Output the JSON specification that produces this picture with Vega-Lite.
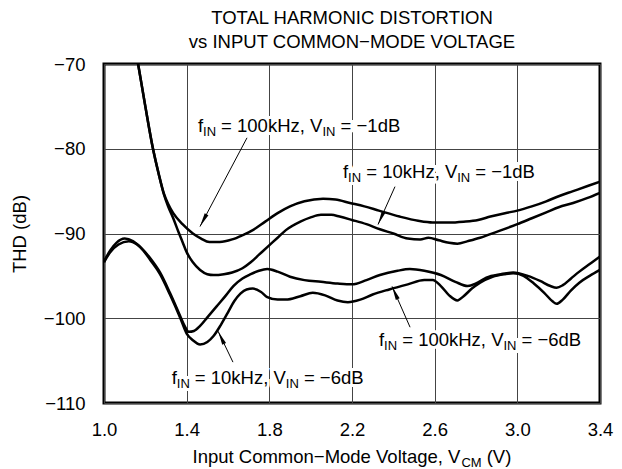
{
  "$schema": "https://vega.github.io/schema/vega-lite/v6.json",
  "width": 496,
  "height": 339,
  "autosize": {"type": "none"},
  "padding": {"left": 104, "top": 64, "right": 22, "bottom": 66},
  "background": "white",
  "config": {
    "font": "Liberation Sans",
    "view": {"stroke": "black", "strokeWidth": 3},
    "axis": {
      "grid": true, "gridColor": "#444", "gridWidth": 1, "gridOpacity": 1,
      "ticks": false, "domain": false,
      "labelFontSize": 18.5, "labelColor": "black", "labelFont": "Liberation Sans",
      "titleFontSize": 18.5, "titleColor": "black", "titleFontWeight": "normal", "titleFont": "Liberation Sans",
      "labelFlush": false, "labelOverlap": false
    }
  },
  "title": {
    "text": ["TOTAL HARMONIC DISTORTION", "vs INPUT COMMON−MODE VOLTAGE"],
    "fontSize": 18.5, "fontWeight": "normal", "font": "Liberation Sans", "color": "black",
    "anchor": "middle", "lineHeight": 24, "offset": 4
  },
  "datasets": {
    "curves": [
      {"s": "100kHz −1dB", "v": 1.15, "thd": -68.0},
      {"s": "100kHz −1dB", "v": 1.165, "thd": -70.0},
      {"s": "100kHz −1dB", "v": 1.2, "thd": -75.0},
      {"s": "100kHz −1dB", "v": 1.237, "thd": -80.0},
      {"s": "100kHz −1dB", "v": 1.265, "thd": -83.0},
      {"s": "100kHz −1dB", "v": 1.29, "thd": -85.3},
      {"s": "100kHz −1dB", "v": 1.31, "thd": -86.5},
      {"s": "100kHz −1dB", "v": 1.335, "thd": -87.6},
      {"s": "100kHz −1dB", "v": 1.38, "thd": -88.9},
      {"s": "100kHz −1dB", "v": 1.43, "thd": -90.0},
      {"s": "100kHz −1dB", "v": 1.47, "thd": -90.6},
      {"s": "100kHz −1dB", "v": 1.51, "thd": -91.0},
      {"s": "100kHz −1dB", "v": 1.56, "thd": -91.0},
      {"s": "100kHz −1dB", "v": 1.62, "thd": -90.7},
      {"s": "100kHz −1dB", "v": 1.67, "thd": -90.2},
      {"s": "100kHz −1dB", "v": 1.72, "thd": -89.6},
      {"s": "100kHz −1dB", "v": 1.78, "thd": -88.6},
      {"s": "100kHz −1dB", "v": 1.84, "thd": -87.6},
      {"s": "100kHz −1dB", "v": 1.9, "thd": -86.8},
      {"s": "100kHz −1dB", "v": 1.97, "thd": -86.2},
      {"s": "100kHz −1dB", "v": 2.06, "thd": -85.9},
      {"s": "100kHz −1dB", "v": 2.12, "thd": -86.0},
      {"s": "100kHz −1dB", "v": 2.19, "thd": -86.4},
      {"s": "100kHz −1dB", "v": 2.26, "thd": -86.8},
      {"s": "100kHz −1dB", "v": 2.33, "thd": -87.3},
      {"s": "100kHz −1dB", "v": 2.43, "thd": -88.0},
      {"s": "100kHz −1dB", "v": 2.52, "thd": -88.5},
      {"s": "100kHz −1dB", "v": 2.59, "thd": -88.7},
      {"s": "100kHz −1dB", "v": 2.67, "thd": -88.7},
      {"s": "100kHz −1dB", "v": 2.74, "thd": -88.6},
      {"s": "100kHz −1dB", "v": 2.81, "thd": -88.4},
      {"s": "100kHz −1dB", "v": 2.87, "thd": -88.0},
      {"s": "100kHz −1dB", "v": 2.94, "thd": -87.6},
      {"s": "100kHz −1dB", "v": 3.0, "thd": -87.3},
      {"s": "100kHz −1dB", "v": 3.07, "thd": -86.8},
      {"s": "100kHz −1dB", "v": 3.14, "thd": -86.2},
      {"s": "100kHz −1dB", "v": 3.2, "thd": -85.6},
      {"s": "100kHz −1dB", "v": 3.27, "thd": -85.0},
      {"s": "100kHz −1dB", "v": 3.34, "thd": -84.4},
      {"s": "100kHz −1dB", "v": 3.4, "thd": -83.9},

      {"s": "10kHz −1dB", "v": 1.15, "thd": -68.0},
      {"s": "10kHz −1dB", "v": 1.165, "thd": -70.0},
      {"s": "10kHz −1dB", "v": 1.2, "thd": -75.0},
      {"s": "10kHz −1dB", "v": 1.237, "thd": -80.0},
      {"s": "10kHz −1dB", "v": 1.265, "thd": -83.0},
      {"s": "10kHz −1dB", "v": 1.29, "thd": -85.4},
      {"s": "10kHz −1dB", "v": 1.31, "thd": -86.8},
      {"s": "10kHz −1dB", "v": 1.335, "thd": -88.2},
      {"s": "10kHz −1dB", "v": 1.36, "thd": -89.8},
      {"s": "10kHz −1dB", "v": 1.38, "thd": -91.0},
      {"s": "10kHz −1dB", "v": 1.4, "thd": -92.2},
      {"s": "10kHz −1dB", "v": 1.43, "thd": -93.4},
      {"s": "10kHz −1dB", "v": 1.465, "thd": -94.3},
      {"s": "10kHz −1dB", "v": 1.5, "thd": -94.8},
      {"s": "10kHz −1dB", "v": 1.53, "thd": -94.9},
      {"s": "10kHz −1dB", "v": 1.58, "thd": -94.8},
      {"s": "10kHz −1dB", "v": 1.62, "thd": -94.6},
      {"s": "10kHz −1dB", "v": 1.67, "thd": -94.1},
      {"s": "10kHz −1dB", "v": 1.71, "thd": -93.4},
      {"s": "10kHz −1dB", "v": 1.75, "thd": -92.5},
      {"s": "10kHz −1dB", "v": 1.79, "thd": -91.6},
      {"s": "10kHz −1dB", "v": 1.84, "thd": -90.5},
      {"s": "10kHz −1dB", "v": 1.88, "thd": -89.6},
      {"s": "10kHz −1dB", "v": 1.95, "thd": -88.6},
      {"s": "10kHz −1dB", "v": 2.0, "thd": -88.1},
      {"s": "10kHz −1dB", "v": 2.05, "thd": -87.8},
      {"s": "10kHz −1dB", "v": 2.1, "thd": -87.8},
      {"s": "10kHz −1dB", "v": 2.14, "thd": -88.0},
      {"s": "10kHz −1dB", "v": 2.2, "thd": -88.4},
      {"s": "10kHz −1dB", "v": 2.27, "thd": -88.9},
      {"s": "10kHz −1dB", "v": 2.335, "thd": -89.5},
      {"s": "10kHz −1dB", "v": 2.4, "thd": -90.0},
      {"s": "10kHz −1dB", "v": 2.47, "thd": -90.6},
      {"s": "10kHz −1dB", "v": 2.53, "thd": -90.7},
      {"s": "10kHz −1dB", "v": 2.57, "thd": -90.5},
      {"s": "10kHz −1dB", "v": 2.62, "thd": -90.8},
      {"s": "10kHz −1dB", "v": 2.67, "thd": -91.1},
      {"s": "10kHz −1dB", "v": 2.71, "thd": -91.2},
      {"s": "10kHz −1dB", "v": 2.76, "thd": -90.9},
      {"s": "10kHz −1dB", "v": 2.82, "thd": -90.5},
      {"s": "10kHz −1dB", "v": 2.9, "thd": -89.8},
      {"s": "10kHz −1dB", "v": 3.0, "thd": -88.9},
      {"s": "10kHz −1dB", "v": 3.07, "thd": -88.2},
      {"s": "10kHz −1dB", "v": 3.14, "thd": -87.5},
      {"s": "10kHz −1dB", "v": 3.2, "thd": -86.9},
      {"s": "10kHz −1dB", "v": 3.27, "thd": -86.4},
      {"s": "10kHz −1dB", "v": 3.34, "thd": -85.8},
      {"s": "10kHz −1dB", "v": 3.4, "thd": -85.2},

      {"s": "100kHz −6dB", "v": 1.0, "thd": -93.3},
      {"s": "100kHz −6dB", "v": 1.03, "thd": -92.0},
      {"s": "100kHz −6dB", "v": 1.06, "thd": -91.1},
      {"s": "100kHz −6dB", "v": 1.1, "thd": -90.6},
      {"s": "100kHz −6dB", "v": 1.14, "thd": -90.9},
      {"s": "100kHz −6dB", "v": 1.18, "thd": -91.7},
      {"s": "100kHz −6dB", "v": 1.223, "thd": -92.9},
      {"s": "100kHz −6dB", "v": 1.271, "thd": -94.6},
      {"s": "100kHz −6dB", "v": 1.319, "thd": -97.0},
      {"s": "100kHz −6dB", "v": 1.368, "thd": -99.7},
      {"s": "100kHz −6dB", "v": 1.39, "thd": -100.9},
      {"s": "100kHz −6dB", "v": 1.41, "thd": -101.6},
      {"s": "100kHz −6dB", "v": 1.435, "thd": -101.5},
      {"s": "100kHz −6dB", "v": 1.465, "thd": -100.9},
      {"s": "100kHz −6dB", "v": 1.5, "thd": -99.9},
      {"s": "100kHz −6dB", "v": 1.545, "thd": -98.6},
      {"s": "100kHz −6dB", "v": 1.59, "thd": -97.3},
      {"s": "100kHz −6dB", "v": 1.626, "thd": -96.2},
      {"s": "100kHz −6dB", "v": 1.67, "thd": -95.3},
      {"s": "100kHz −6dB", "v": 1.71, "thd": -94.8},
      {"s": "100kHz −6dB", "v": 1.75, "thd": -94.4},
      {"s": "100kHz −6dB", "v": 1.79, "thd": -94.2},
      {"s": "100kHz −6dB", "v": 1.84, "thd": -94.5},
      {"s": "100kHz −6dB", "v": 1.9, "thd": -95.1},
      {"s": "100kHz −6dB", "v": 1.97, "thd": -95.5},
      {"s": "100kHz −6dB", "v": 2.05, "thd": -95.7},
      {"s": "100kHz −6dB", "v": 2.13, "thd": -95.9},
      {"s": "100kHz −6dB", "v": 2.2, "thd": -96.0},
      {"s": "100kHz −6dB", "v": 2.27, "thd": -95.5},
      {"s": "100kHz −6dB", "v": 2.335, "thd": -94.9},
      {"s": "100kHz −6dB", "v": 2.42, "thd": -94.4},
      {"s": "100kHz −6dB", "v": 2.48, "thd": -94.2},
      {"s": "100kHz −6dB", "v": 2.55, "thd": -94.4},
      {"s": "100kHz −6dB", "v": 2.63, "thd": -94.9},
      {"s": "100kHz −6dB", "v": 2.7, "thd": -95.7},
      {"s": "100kHz −6dB", "v": 2.76, "thd": -96.2},
      {"s": "100kHz −6dB", "v": 2.8, "thd": -95.9},
      {"s": "100kHz −6dB", "v": 2.85, "thd": -95.2},
      {"s": "100kHz −6dB", "v": 2.92, "thd": -94.8},
      {"s": "100kHz −6dB", "v": 2.98, "thd": -94.6},
      {"s": "100kHz −6dB", "v": 3.05, "thd": -95.0},
      {"s": "100kHz −6dB", "v": 3.11, "thd": -95.6},
      {"s": "100kHz −6dB", "v": 3.16, "thd": -96.2},
      {"s": "100kHz −6dB", "v": 3.19, "thd": -96.4},
      {"s": "100kHz −6dB", "v": 3.22, "thd": -96.1},
      {"s": "100kHz −6dB", "v": 3.26, "thd": -95.3},
      {"s": "100kHz −6dB", "v": 3.3, "thd": -94.5},
      {"s": "100kHz −6dB", "v": 3.35, "thd": -93.6},
      {"s": "100kHz −6dB", "v": 3.4, "thd": -92.7},

      {"s": "10kHz −6dB", "v": 1.0, "thd": -93.4},
      {"s": "10kHz −6dB", "v": 1.03, "thd": -92.2},
      {"s": "10kHz −6dB", "v": 1.07, "thd": -91.3},
      {"s": "10kHz −6dB", "v": 1.12, "thd": -90.9},
      {"s": "10kHz −6dB", "v": 1.16, "thd": -91.3},
      {"s": "10kHz −6dB", "v": 1.19, "thd": -92.0},
      {"s": "10kHz −6dB", "v": 1.223, "thd": -93.1},
      {"s": "10kHz −6dB", "v": 1.271, "thd": -94.8},
      {"s": "10kHz −6dB", "v": 1.319, "thd": -97.2},
      {"s": "10kHz −6dB", "v": 1.368, "thd": -99.9},
      {"s": "10kHz −6dB", "v": 1.4, "thd": -101.8},
      {"s": "10kHz −6dB", "v": 1.43, "thd": -102.6},
      {"s": "10kHz −6dB", "v": 1.465, "thd": -103.1},
      {"s": "10kHz −6dB", "v": 1.5, "thd": -102.8},
      {"s": "10kHz −6dB", "v": 1.53, "thd": -102.1},
      {"s": "10kHz −6dB", "v": 1.565, "thd": -100.8},
      {"s": "10kHz −6dB", "v": 1.6, "thd": -99.3},
      {"s": "10kHz −6dB", "v": 1.63, "thd": -98.0},
      {"s": "10kHz −6dB", "v": 1.66, "thd": -97.1},
      {"s": "10kHz −6dB", "v": 1.69, "thd": -96.6},
      {"s": "10kHz −6dB", "v": 1.72, "thd": -96.5},
      {"s": "10kHz −6dB", "v": 1.76, "thd": -96.9},
      {"s": "10kHz −6dB", "v": 1.79, "thd": -97.5},
      {"s": "10kHz −6dB", "v": 1.84, "thd": -97.8},
      {"s": "10kHz −6dB", "v": 1.88, "thd": -97.8},
      {"s": "10kHz −6dB", "v": 1.95, "thd": -97.4},
      {"s": "10kHz −6dB", "v": 2.01, "thd": -97.0},
      {"s": "10kHz −6dB", "v": 2.07, "thd": -97.3},
      {"s": "10kHz −6dB", "v": 2.13, "thd": -97.9},
      {"s": "10kHz −6dB", "v": 2.18, "thd": -98.1},
      {"s": "10kHz −6dB", "v": 2.24, "thd": -97.8},
      {"s": "10kHz −6dB", "v": 2.3, "thd": -97.2},
      {"s": "10kHz −6dB", "v": 2.38, "thd": -96.6},
      {"s": "10kHz −6dB", "v": 2.47, "thd": -96.0},
      {"s": "10kHz −6dB", "v": 2.55, "thd": -95.5},
      {"s": "10kHz −6dB", "v": 2.59, "thd": -95.5},
      {"s": "10kHz −6dB", "v": 2.63, "thd": -96.2},
      {"s": "10kHz −6dB", "v": 2.67, "thd": -97.3},
      {"s": "10kHz −6dB", "v": 2.71, "thd": -97.9},
      {"s": "10kHz −6dB", "v": 2.74, "thd": -97.4},
      {"s": "10kHz −6dB", "v": 2.78, "thd": -96.5},
      {"s": "10kHz −6dB", "v": 2.82, "thd": -95.8},
      {"s": "10kHz −6dB", "v": 2.88, "thd": -95.1},
      {"s": "10kHz −6dB", "v": 2.94, "thd": -94.8},
      {"s": "10kHz −6dB", "v": 2.98, "thd": -94.7},
      {"s": "10kHz −6dB", "v": 3.03, "thd": -95.0},
      {"s": "10kHz −6dB", "v": 3.08, "thd": -95.9},
      {"s": "10kHz −6dB", "v": 3.13, "thd": -97.0},
      {"s": "10kHz −6dB", "v": 3.17, "thd": -98.0},
      {"s": "10kHz −6dB", "v": 3.19, "thd": -98.3},
      {"s": "10kHz −6dB", "v": 3.22, "thd": -97.8},
      {"s": "10kHz −6dB", "v": 3.26, "thd": -96.7},
      {"s": "10kHz −6dB", "v": 3.3, "thd": -95.8},
      {"s": "10kHz −6dB", "v": 3.35, "thd": -95.0},
      {"s": "10kHz −6dB", "v": 3.4, "thd": -94.3}
    ],
    "labels": [
      {"t": "f", "v": 1.4548, "db": -78.0, "k": "main"},
      {"t": "IN", "v": 1.4795, "db": -78.47, "k": "sub"},
      {"t": "= 100kHz, V", "v": 1.5666, "db": -78.0, "k": "main"},
      {"t": "IN", "v": 2.0573, "db": -78.47, "k": "sub"},
      {"t": "= −1dB", "v": 2.1448, "db": -78.0, "k": "main"},

      {"t": "f", "v": 2.1565, "db": -83.41, "k": "main"},
      {"t": "IN", "v": 2.1811, "db": -83.88, "k": "sub"},
      {"t": "= 10kHz, V", "v": 2.2692, "db": -83.41, "k": "main"},
      {"t": "IN", "v": 2.709, "db": -83.88, "k": "sub"},
      {"t": "= −1dB", "v": 2.7966, "db": -83.41, "k": "main"},

      {"t": "f", "v": 2.3306, "db": -103.26, "k": "main"},
      {"t": "IN", "v": 2.3553, "db": -103.73, "k": "sub"},
      {"t": "= 100kHz, V", "v": 2.4429, "db": -103.26, "k": "main"},
      {"t": "IN", "v": 2.9331, "db": -103.73, "k": "sub"},
      {"t": "= −6dB", "v": 3.0202, "db": -103.26, "k": "main"},

      {"t": "f", "v": 1.3276, "db": -107.76, "k": "main"},
      {"t": "IN", "v": 1.3523, "db": -108.24, "k": "sub"},
      {"t": "= 10kHz, V", "v": 1.4394, "db": -107.76, "k": "main"},
      {"t": "IN", "v": 1.8797, "db": -108.24, "k": "sub"},
      {"t": "= −6dB", "v": 1.9673, "db": -107.76, "k": "main"},

      {"t": "Input Common−Mode Voltage, V", "v": 1.4282, "db": -117.06, "k": "main"},
      {"t": "CM", "v": 2.7294, "db": -117.53, "k": "sub"},
      {"t": "(V)", "v": 2.8518, "db": -117.06, "k": "main"}
    ],
    "arrows": [
      {"tailV": 1.692, "tailDB": -78.71, "tipV": 1.4645, "tipDB": -89.18},
      {"tailV": 2.408, "tailDB": -84.47, "tipV": 2.326, "tipDB": -88.94},
      {"tailV": 2.481, "tailDB": -101.06, "tipV": 2.394, "tipDB": -96.24},
      {"tailV": 1.624, "tailDB": -105.18, "tipV": 1.552, "tipDB": -101.53}
    ]
  },
  "layer": [
    {
      "data": {"name": "curves"},
      "mark": {"type": "line", "color": "black", "strokeWidth": 2.5, "interpolate": "monotone", "clip": true},
      "encoding": {
        "x": {
          "field": "v", "type": "quantitative",
          "scale": {"domain": [1.0, 3.4], "nice": false, "zero": false},
          "axis": {"values": [1.0, 1.4, 1.8, 2.2, 2.6, 3.0, 3.4], "format": ".1f", "title": null, "labelPadding": 17}
        },
        "y": {
          "field": "thd", "type": "quantitative",
          "scale": {"domain": [-110, -70], "nice": false, "zero": false},
          "axis": {"values": [-110, -100, -90, -80, -70], "format": "d", "title": "THD (dB)", "labelPadding": 19, "titlePadding": 14}
        },
        "detail": {"field": "s"}
      }
    },
    {
      "data": {"name": "labels"},
      "transform": [{"filter": "datum.k === 'main'"}],
      "mark": {"type": "text", "align": "left", "baseline": "alphabetic", "fontSize": 18.5, "stroke": "white", "strokeWidth": 6, "fill": "white"},
      "encoding": {
        "x": {"field": "v", "type": "quantitative"},
        "y": {"field": "db", "type": "quantitative"},
        "text": {"field": "t"}
      }
    },
    {
      "data": {"name": "labels"},
      "transform": [{"filter": "datum.k === 'sub'"}],
      "mark": {"type": "text", "align": "left", "baseline": "alphabetic", "fontSize": 13, "stroke": "white", "strokeWidth": 6, "fill": "white"},
      "encoding": {
        "x": {"field": "v", "type": "quantitative"},
        "y": {"field": "db", "type": "quantitative"},
        "text": {"field": "t"}
      }
    },
    {
      "data": {"name": "labels"},
      "transform": [{"filter": "datum.k === 'main'"}],
      "mark": {"type": "text", "align": "left", "baseline": "alphabetic", "fontSize": 18.5, "color": "black"},
      "encoding": {
        "x": {"field": "v", "type": "quantitative"},
        "y": {"field": "db", "type": "quantitative"},
        "text": {"field": "t"}
      }
    },
    {
      "data": {"name": "labels"},
      "transform": [{"filter": "datum.k === 'sub'"}],
      "mark": {"type": "text", "align": "left", "baseline": "alphabetic", "fontSize": 13, "color": "black"},
      "encoding": {
        "x": {"field": "v", "type": "quantitative"},
        "y": {"field": "db", "type": "quantitative"},
        "text": {"field": "t"}
      }
    },
    {
      "data": {"name": "arrows"},
      "mark": {"type": "rule", "color": "black", "strokeWidth": 1},
      "encoding": {
        "x": {"field": "tailV", "type": "quantitative"},
        "y": {"field": "tailDB", "type": "quantitative"},
        "x2": {"field": "tipV"},
        "y2": {"field": "tipDB"}
      }
    },
    {
      "data": {"name": "arrows"},
      "mark": {
        "type": "point", "filled": true, "color": "black", "opacity": 1, "strokeWidth": 0, "size": 196,
        "shape": "M0,0L-0.3,2L0.3,2Z",
        "angle": {"expr": "atan2(scale('x', datum.tipV) - scale('x', datum.tailV), scale('y', datum.tailDB) - scale('y', datum.tipDB)) * 180 / PI"}
      },
      "encoding": {
        "x": {"field": "tipV", "type": "quantitative"},
        "y": {"field": "tipDB", "type": "quantitative"}
      }
    }
  ]
}
